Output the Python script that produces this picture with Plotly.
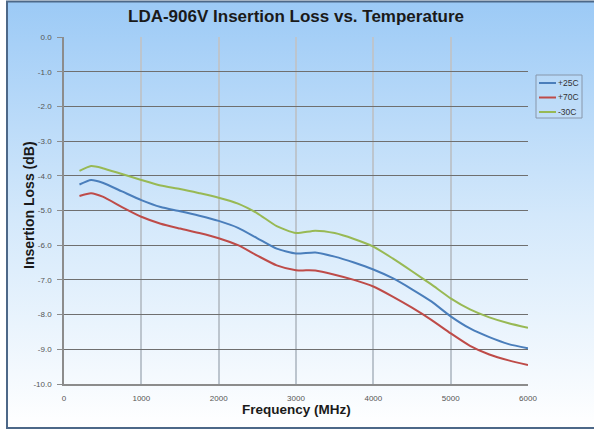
import plotly.graph_objects as go

freq = [200, 350, 500, 750, 1000, 1250, 1500, 1750, 2000, 2250, 2500, 2750, 3000,
        3250, 3500, 3750, 4000, 4250, 4500, 4750, 5000, 5250, 5500, 5750, 6000]
loss_25 = [-4.25, -4.12, -4.20, -4.45, -4.70, -4.90, -5.02, -5.15, -5.30, -5.50, -5.80, -6.10, -6.24,
           -6.21, -6.33, -6.50, -6.70, -6.95, -7.27, -7.62, -8.05, -8.40, -8.65, -8.85, -8.97]
loss_70 = [-4.58, -4.50, -4.60, -4.90, -5.18, -5.38, -5.52, -5.65, -5.80, -6.00, -6.30, -6.58, -6.72,
           -6.73, -6.85, -7.00, -7.19, -7.48, -7.80, -8.15, -8.54, -8.90, -9.15, -9.32, -9.45]
loss_m30 = [-3.86, -3.72, -3.78, -3.95, -4.12, -4.28, -4.38, -4.50, -4.63, -4.80, -5.08, -5.45, -5.65,
            -5.58, -5.65, -5.82, -6.04, -6.38, -6.75, -7.13, -7.53, -7.85, -8.08, -8.25, -8.38]
series_names = ["+25C", "+70C", "-30C"]
series_colors = ["#4a7ebb", "#be4b48", "#98b954"]
x_ticks = [0, 1000, 2000, 3000, 4000, 5000, 6000]
y_ticks = [0, -1, -2, -3, -4, -5, -6, -7, -8, -9, -10]
y_tick_text = ["0.0", "-1.0", "-2.0", "-3.0", "-4.0", "-5.0", "-6.0", "-7.0", "-8.0", "-9.0", "-10.0"]

W, H = 594, 434
L, R, T, B = 64, 66, 37, 50
pw, ph = W - L - R, H - T - B

fig = go.Figure()
for name, vals, col in zip(series_names, [loss_25, loss_70, loss_m30], series_colors):
    fig.add_trace(go.Scatter(x=freq, y=vals, mode="lines", name=name, showlegend=False,
                             line=dict(color=col, width=2, shape="spline", smoothing=0.6)))

def px_x(p):
    return (p - L) / pw

def px_y(p):
    return (H - B - p) / ph

svg = ("data:image/svg+xml;charset=utf-8,"
       "<svg xmlns='http://www.w3.org/2000/svg' width='100' height='100' preserveAspectRatio='none'>"
       "<defs><linearGradient id='g' x1='0' y1='0' x2='0' y2='1'>"
       "<stop offset='0' stop-color='%239ccaf6'/><stop offset='0.5' stop-color='%23d3e8fb'/>"
       "<stop offset='1' stop-color='%23ffffff'/></linearGradient></defs>"
       "<rect width='100' height='100' fill='url(%23g)'/></svg>")

fig.add_layout_image(dict(source=svg, xref="paper", yref="paper",
                          x=px_x(8), y=px_y(2), sizex=(600 - 8) / pw, sizey=(428 - 2) / ph,
                          sizing="stretch", xanchor="left", yanchor="top", layer="below"))

fig.add_shape(type="rect", xref="paper", yref="paper",
              x0=px_x(7), x1=px_x(610), y0=px_y(1.5), y1=px_y(428),
              line=dict(color="#4d6888", width=2), fillcolor="rgba(0,0,0,0)", layer="below")

# manual legend
fig.add_shape(type="rect", xref="paper", yref="paper",
              x0=px_x(536), x1=px_x(582), y0=px_y(75), y1=px_y(118),
              line=dict(color="#8796aa", width=1), fillcolor="rgba(255,255,255,0.1)")
for i, (name, col) in enumerate(zip(series_names, series_colors)):
    yy = 83 + i * 14.5
    fig.add_shape(type="line", xref="paper", yref="paper",
                  x0=px_x(539), x1=px_x(556), y0=px_y(yy), y1=px_y(yy),
                  line=dict(color=col, width=2))
    fig.add_annotation(text=name, xref="paper", yref="paper", x=px_x(556), y=px_y(yy),
                       showarrow=False, xanchor="left", yanchor="middle",
                       font=dict(size=8.5, color="#333333", family="Liberation Sans, Arial"))

fig.add_annotation(text="<b>LDA-906V Insertion Loss vs. Temperature</b>", xref="paper", yref="paper",
                   x=px_x(296), y=px_y(16), showarrow=False, xanchor="center", yanchor="middle",
                   font=dict(size=17, color="#1a1a1a", family="Liberation Sans, Arial"))
fig.add_annotation(text="<b>Insertion Loss (dB)</b>", xref="paper", yref="paper",
                   x=px_x(29), y=px_y(205), showarrow=False, textangle=-90,
                   xanchor="center", yanchor="middle",
                   font=dict(size=14, color="#1a1a1a", family="Liberation Sans, Arial"))
fig.add_annotation(text="<b>Frequency (MHz)</b>", xref="paper", yref="paper",
                   x=px_x(296), y=px_y(409), showarrow=False, xanchor="center", yanchor="middle",
                   font=dict(size=13.5, color="#1a1a1a", family="Liberation Sans, Arial"))

fig.update_layout(
    width=W, height=H,
    margin=dict(l=L, r=R, t=T, b=B, pad=0, autoexpand=False),
    paper_bgcolor="white", plot_bgcolor="rgba(0,0,0,0)",
    font=dict(family="Liberation Sans, Arial", size=8, color="#555555"),
    showlegend=False,
)
fig.update_xaxes(range=[0, 6000], tickvals=x_ticks, ticktext=[str(v) for v in x_ticks],
                 showgrid=True, gridcolor="#bcc5ce", gridwidth=1.5,
                 showline=True, linecolor="#8c8c8c", linewidth=1.5, mirror=False,
                 zeroline=False, ticks="", ticklabelstandoff=6)
fig.update_yaxes(range=[-10, 0], tickvals=y_ticks, ticktext=y_tick_text,
                 showgrid=True, gridcolor="#6f6f6f", gridwidth=1.3,
                 showline=True, linecolor="#8c8c8c", linewidth=1.5,
                 zeroline=False, ticks="outside", ticklen=5, tickcolor="#8c8c8c",
                 ticklabelstandoff=4)

fig.write_html("out.html", config={"displayModeBar": False},
               post_script="document.body.style.margin='0';document.body.style.padding='0';")
